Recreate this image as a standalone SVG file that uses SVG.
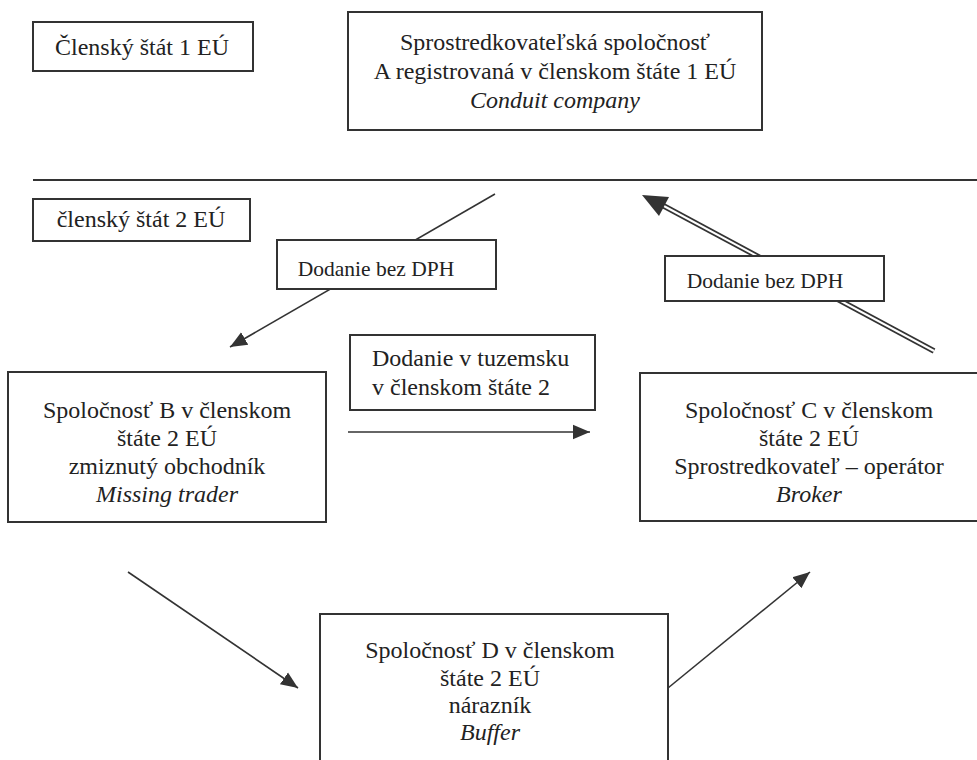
<svg xmlns="http://www.w3.org/2000/svg" width="977" height="760" viewBox="0 0 977 760">
<defs>
<style>
.box{fill:#fff;stroke:#333;stroke-width:2}
.t{font-family:"Liberation Serif","Times New Roman",serif;font-size:24px;fill:#222;text-anchor:middle}
.tl{font-family:"Liberation Serif","Times New Roman",serif;font-size:24px;fill:#222}
.lab{font-family:"Liberation Serif","Times New Roman",serif;font-size:21.5px;fill:#222;text-anchor:middle}
.i{font-style:italic}
.ln{stroke:#333;stroke-width:1.6;fill:none}
</style>
<marker id="ah" viewBox="0 0 10 10" refX="10" refY="5" markerWidth="17" markerHeight="17" markerUnits="userSpaceOnUse" orient="auto">
<path d="M0,0.8 L10,5 L0,9.2 z" fill="#333"/>
</marker>
</defs>
<rect width="977" height="760" fill="#fff"/>
<g id="divider"><line x1="33" y1="180" x2="977" y2="180" stroke="#333" stroke-width="2"/></g>
<g id="connectors">
<line class="ln" x1="495" y1="194" x2="230" y2="347" marker-end="url(#ah)"/>
<line x1="934" y1="351" x2="662" y2="205" stroke="#333" stroke-width="5.5"/>
<line x1="934" y1="351" x2="662" y2="205" stroke="#fff" stroke-width="2"/>
<polygon points="642,195 669,197 659,216" fill="#333"/>
<line class="ln" x1="348" y1="432" x2="590" y2="432" marker-end="url(#ah)"/>
<line class="ln" x1="128" y1="572" x2="298" y2="688" marker-end="url(#ah)"/>
<line class="ln" x1="668" y1="688" x2="810" y2="572" marker-end="url(#ah)"/>
</g>
<g id="state1"><rect class="box" x="33" y="22" width="220" height="49"/><text class="t" x="142" y="55">Členský štát 1 EÚ</text></g>
<g id="companyA"><rect class="box" x="348" y="12" width="414" height="118"/>
<text class="t" x="555" y="50">Sprostredkovateľská spoločnosť</text>
<text class="t" x="555" y="79">A registrovaná v členskom štáte 1 EÚ</text>
<text class="t i" x="555" y="108">Conduit company</text></g>
<g id="state2"><rect class="box" x="33" y="199" width="217" height="42"/><text class="t" x="141" y="227">členský štát 2 EÚ</text></g>
<g id="label1"><rect class="box" x="277" y="240" width="219" height="49"/><text class="lab" x="376" y="276">Dodanie bez DPH</text></g>
<g id="label2"><rect class="box" x="665" y="256" width="219" height="45"/><text class="lab" x="765" y="288">Dodanie bez DPH</text></g>
<g id="label3"><rect class="box" x="350" y="335" width="245" height="75"/>
<text class="tl" x="372" y="366">Dodanie v tuzemsku</text>
<text class="tl" x="372" y="395">v členskom štáte 2</text></g>
<g id="companyB"><rect class="box" x="8" y="372" width="318" height="150"/>
<text class="t" x="167" y="418">Spoločnosť B v členskom</text>
<text class="t" x="167" y="446">štáte 2 EÚ</text>
<text class="t" x="167" y="474">zmiznutý obchodník</text>
<text class="t i" x="167" y="502">Missing trader</text></g>
<g id="companyC"><rect class="box" x="640" y="373" width="345" height="148"/>
<text class="t" x="809" y="418">Spoločnosť C v členskom</text>
<text class="t" x="809" y="446">štáte 2 EÚ</text>
<text class="t" x="809" y="474">Sprostredkovateľ – operátor</text>
<text class="t i" x="809" y="502">Broker</text></g>
<g id="companyD"><rect class="box" x="320" y="614" width="348" height="160"/>
<text class="t" x="490" y="658">Spoločnosť D v  členskom</text>
<text class="t" x="490" y="686">štáte 2 EÚ</text>
<text class="t" x="490" y="713">nárazník</text>
<text class="t i" x="490" y="740">Buffer</text></g>
</svg>
